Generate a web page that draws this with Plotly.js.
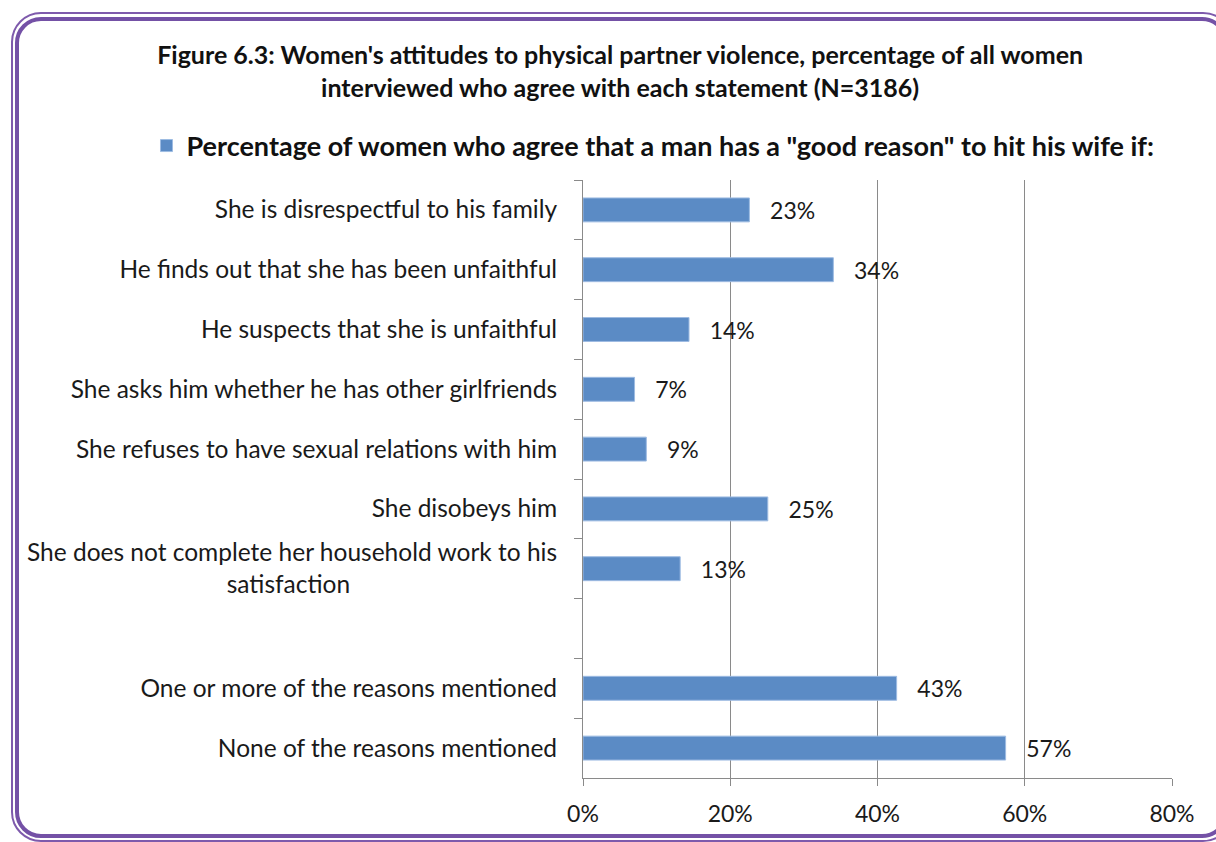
<!DOCTYPE html>
<html>
<head>
<meta charset="utf-8">
<script src="https://cdn.plot.ly/plotly-3.0.1.min.js"></script>
<style>
  html, body { margin: 0; padding: 0; background: #ffffff; }
  #wrap { position: relative; width: 1216px; height: 842px; overflow: hidden; }
  #chart { position: absolute; left: 0; top: 0; width: 1216px; height: 842px; }
  .frame-outer { position: absolute; left: 11px; top: 12px; width: 1222px; height: 830px;
    border: 2px solid #7e5aac; border-radius: 30px; box-sizing: border-box; pointer-events: none; }
  .frame-inner { position: absolute; left: 15px; top: 17px; width: 1213px; height: 821px;
    border: 4px solid #7451a6; border-radius: 26px; box-sizing: border-box; pointer-events: none; }
</style>
</head>
<body>
<div id="wrap">
  <div id="chart"></div>
  <div class="frame-outer"></div>
  <div class="frame-inner"></div>
</div>
<script>
const NB = "\u00a0";
const categories = [
  "She is disrespectful to his family",
  "He finds out that she has been unfaithful",
  "He suspects that she is unfaithful",
  "She asks him whether he has other girlfriends",
  "She refuses to have sexual relations with him",
  "She disobeys him",
  "She does not complete her household work to his<br>satisfaction" + NB.repeat(33),
  NB,
  "One or more of the reasons mentioned",
  "None of the reasons mentioned"
];
const values = [22.6, 34.0, 14.4, 7.0, 8.6, 25.1, 13.2, null, 42.6, 57.4];
const seriesName = 'Percentage of women who agree that a man has a "good reason" to hit his wife if:';
const xTicks = [0, 20, 40, 60, 80];
const xTickLabels = ["0%", "20%", "40%", "60%", "80%"];

const FONT = "Lato, 'Open Sans', sans-serif";
const barColor = "#5b8bc5";

const trace = {
  type: "bar",
  orientation: "h",
  name: seriesName,
  y: categories,
  x: values,
  marker: { color: barColor, line: { color: "#9dbbe2", width: 1 } },
  texttemplate: NB + NB + NB + "%{x:.0f}%",
  textposition: "outside",
  constraintext: "none",
  textfont: { family: FONT, size: 23, color: "#1a1a1a" },
  cliponaxis: false,
  hoverinfo: "skip"
};

const layout = {
  width: 1216,
  height: 842,
  paper_bgcolor: "#ffffff",
  plot_bgcolor: "#ffffff",
  margin: { l: 583, r: 44, t: 180, b: 64 },
  font: { family: FONT, color: "#1a1a1a" },
  bargap: 0.6,
  title: {
    text: "<b>Figure 6.3: Women's attitudes to physical partner violence, percentage of all women<br>interviewed who agree with each statement (N=3186)</b>",
    font: { family: FONT, size: 25, color: "#111111" },
    x: 0.51, xref: "container", xanchor: "center",
    y: 1 - 64 / 842, yref: "container", yanchor: "top"
  },
  showlegend: true,
  legend: {
    orientation: "h",
    xref: "container", yref: "container",
    x: 0.537, xanchor: "center",
    y: 1 - 146 / 842, yanchor: "middle",
    font: { family: FONT, size: 27, color: "#111111", weight: "bold" },
    itemwidth: 30,
    bgcolor: "rgba(0,0,0,0)"
  },
  xaxis: {
    range: [0, 80],
    tickvals: xTicks,
    ticktext: xTickLabels,
    showgrid: true,
    gridcolor: "#8a8a8a",
    gridwidth: 1,
    zeroline: false,
    showline: true,
    linecolor: "#8a8a8a",
    linewidth: 1,
    ticks: "outside",
    ticklen: 7,
    tickcolor: "#8a8a8a",
    ticklabelstandoff: 8,
    tickfont: { family: FONT, size: 23, color: "#1a1a1a" },
    fixedrange: true
  },
  yaxis: {
    type: "category",
    autorange: "reversed",
    showgrid: false,
    zeroline: false,
    showline: true,
    linecolor: "#8a8a8a",
    linewidth: 1,
    ticks: "outside",
    tickson: "boundaries",
    ticklen: 8,
    tickcolor: "#8a8a8a",
    ticklabelstandoff: 20,
    tickfont: { family: FONT, size: 24.5, color: "#1a1a1a" },
    fixedrange: true
  }
};

Plotly.newPlot("chart", [trace], layout, { displayModeBar: false, staticPlot: true });
</script>
</body>
</html>
